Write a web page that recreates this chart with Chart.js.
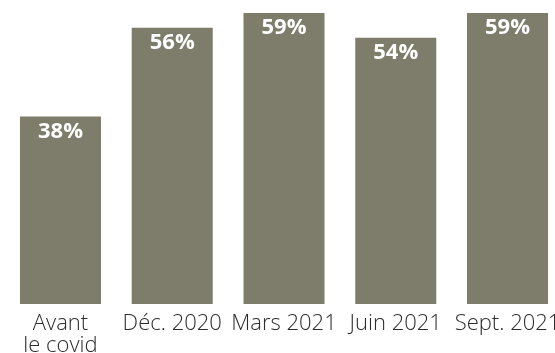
<!DOCTYPE html>
<html>
<head>
<meta charset="utf-8">
<script src="https://cdn.jsdelivr.net/npm/chart.js@4"></script>
<style>
	html, body { margin: 0; padding: 0; background: #fff; overflow: hidden; }
	#wrap { width: 564px; height: 353px; }
</style>
</head>
<body>
<div id="wrap"><canvas id="barChart"></canvas></div>
<script>
// Data
const categories = [['Avant', 'le covid'], 'Déc. 2020', 'Mars 2021', 'Juin 2021', 'Sept. 2021'];
const shares = [38, 56, 59, 54, 59];

// value labels inside the top of each bar
const valueLabels = {
	id: 'valueLabels',
	afterDatasetsDraw(chart) {
		const ctx = chart.ctx;
		const meta = chart.getDatasetMeta(0);
		ctx.save();
		ctx.fillStyle = '#ffffff';
		ctx.font = 'bold 22px "Open Sans"';
		ctx.textAlign = 'center';
		ctx.textBaseline = 'middle';
		meta.data.forEach((bar, i) => {
			ctx.fillText(shares[i] + '%', bar.x, bar.y + 15);
		});
		ctx.restore();
	}
};

const barCtx = document.getElementById('barChart').getContext('2d');
new Chart(barCtx, {
	type: 'bar',
	data: {
		labels: categories,
		datasets: [{
			data: shares,
			backgroundColor: '#7e7c6a',
			categoryPercentage: 1,
			barPercentage: 0.725,
		}]
	},
	options: {
		responsive: true,
		maintainAspectRatio: false,
		animation: false,
		layout: {
			padding: { top: 13, left: 4.6, right: 0.6, bottom: 0 }
		},
		plugins: {
			legend: { display: false },
			tooltip: { enabled: false }
		},
		scales: {
			y: {
				display: false,
				min: 0,
				max: 59
			},
			x: {
				grid: { display: false },
				border: { display: false },
				afterFit(scale) {
					scale.height = 49;
				},
				ticks: {
					color: '#2b2b2b',
					padding: 1,
					maxRotation: 0,
					autoSkip: false,
					font: { family: '"Open Sans"', size: 22, weight: 300, lineHeight: 1.0 }
				}
			}
		}
	},
	plugins: [valueLabels]
});
</script>
</body>
</html>
